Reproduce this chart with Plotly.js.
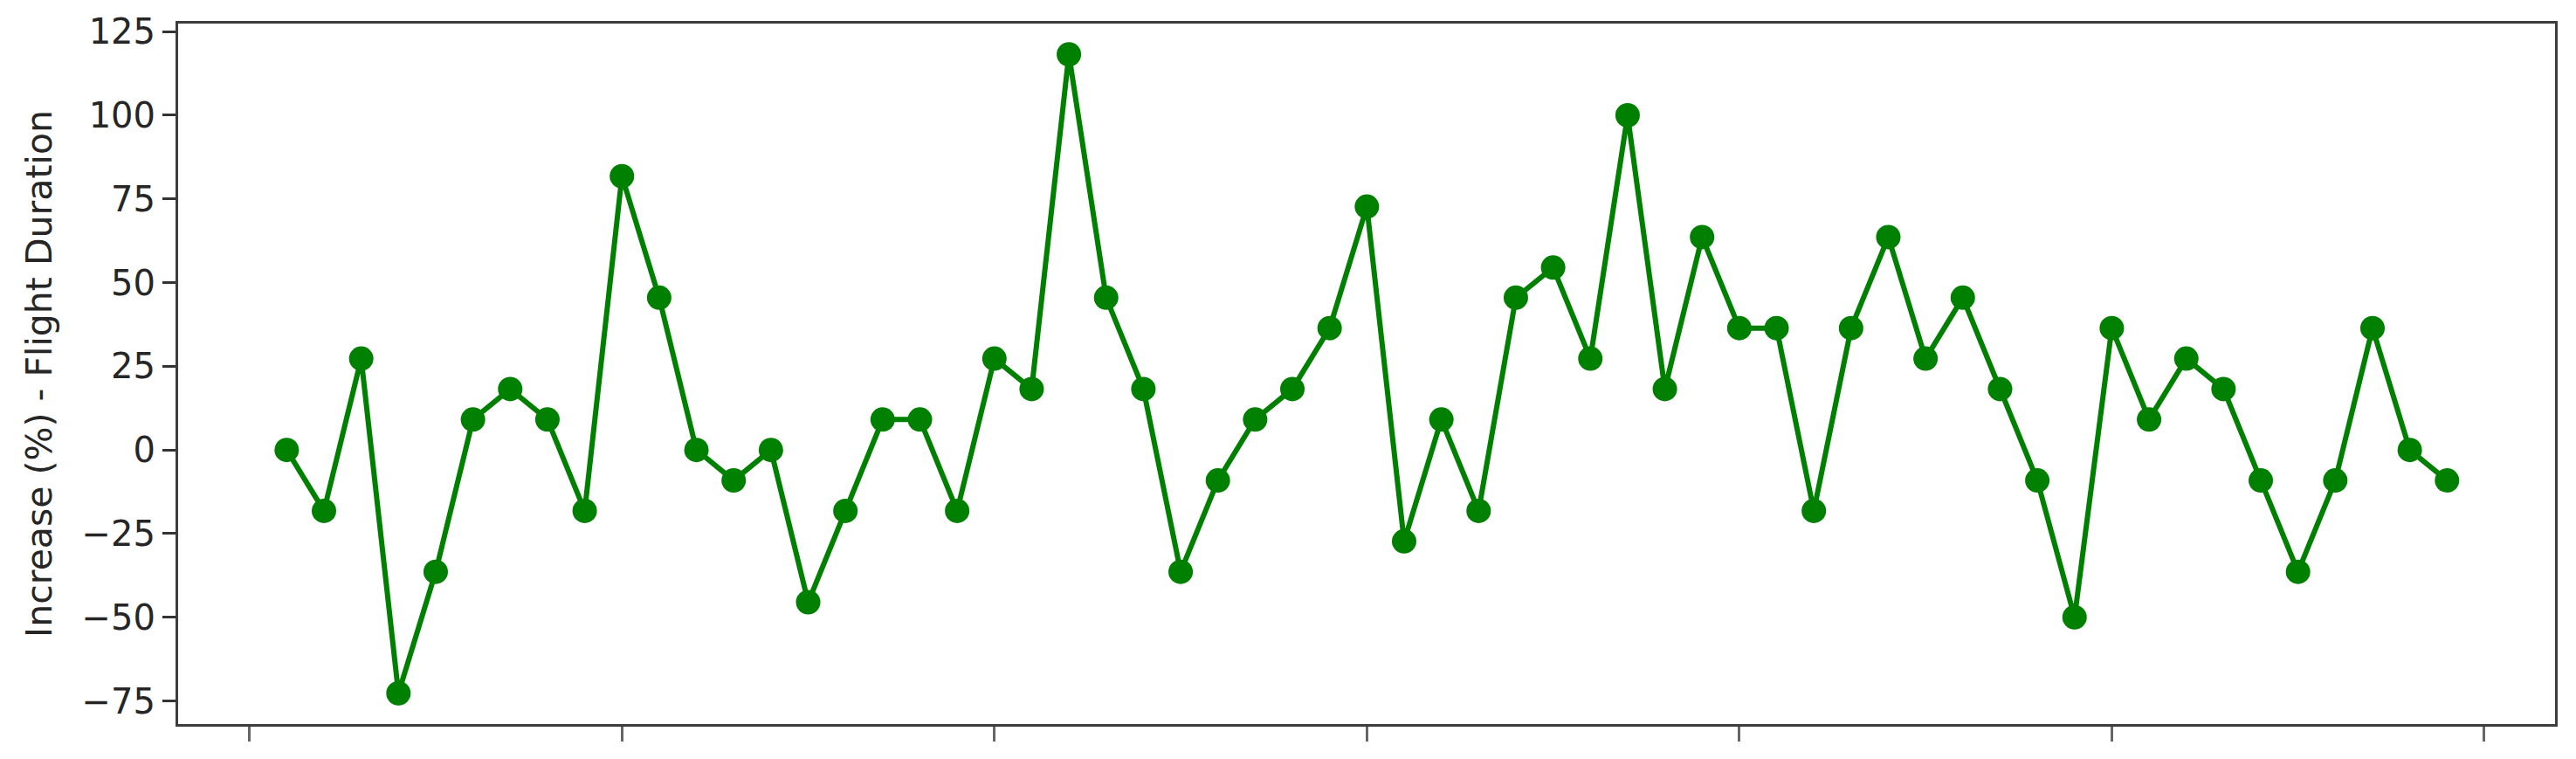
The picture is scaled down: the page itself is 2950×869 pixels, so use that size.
<!DOCTYPE html>
<html>
<head>
<meta charset="utf-8">
<script src="https://cdn.plot.ly/plotly-3.0.1.min.js"></script>
<style>
  html, body { margin: 0; padding: 0; background: #fff; }
</style>
</head>
<body>
<div id="grafico"></div>
<script>
// increase (%) of flight duration, one value per run (run 1 .. 59)
const increase = [
    0, -18.2, 27.3, -72.7, -36.4, 9.1, 18.2, 9.1, -18.2, 81.8,
    45.5, 0, -9.1, 0, -45.5, -18.2, 9.1, 9.1, -18.2, 27.3,
    18.2, 118.2, 45.5, 18.2, -36.4, -9.1, 9.1, 18.2, 36.4, 72.7,
    -27.3, 9.1, -18.2, 45.5, 54.5, 27.3, 100, 18.2, 63.6, 36.4,
    36.4, -18.2, 36.4, 63.6, 27.3, 45.5, 18.2, -9.1, -50, 36.4,
    9.1, 27.3, 18.2, -9.1, -36.4, -9.1, 36.4, 0, -9.1
];
const firstRun = 1;
const yTicks = [-75, -50, -25, 0, 25, 50, 75, 100, 125];
const xTicks = [0, 10, 20, 30, 40, 50, 60];
const yLabel = "Increase (%) - Flight Duration";

const verde = 'rgb(0, 128, 0)';
const fonte = '"DejaVu Sans", Verdana, sans-serif';

var data = [{
    y: increase,
    x0: firstRun,
    dx: 1,
    type: 'scatter',
    mode: 'lines+markers',
    line: {color: verde, width: 6},
    marker: {color: verde, size: 28},
    hoverinfo: 'skip'
}];

var layout = {
    width: 2950,
    height: 869,
    margin: {l: 204, r: 24, t: 27, b: 40},
    paper_bgcolor: 'white',
    plot_bgcolor: 'white',
    showlegend: false,
    font: {family: fonte, color: '#262626'},
    xaxis: {
        range: [-1.915, 61.9],
        tickmode: 'array',
        tickvals: xTicks,
        showticklabels: false,
        ticks: 'outside',
        ticklen: 17,
        tickwidth: 3,
        tickcolor: '#666',
        showgrid: false,
        zeroline: false,
        showline: true,
        mirror: true,
        linecolor: '#3d3d3d',
        linewidth: 3
    },
    yaxis: {
        range: [-81.9, 127.4],
        tickmode: 'array',
        tickvals: yTicks,
        ticktext: yTicks.map(v => v < 0 ? '\u2212' + Math.abs(v) : String(v)),
        ticks: 'outside',
        ticklen: 15,
        tickwidth: 3,
        tickcolor: '#333',
        ticklabelstandoff: 0,
        tickfont: {family: fonte, size: 40, color: '#262626'},
        showgrid: false,
        zeroline: false,
        showline: true,
        mirror: true,
        linecolor: '#3d3d3d',
        linewidth: 3,
        title: {
            text: yLabel,
            font: {family: fonte, size: 41, color: '#262626'},
            standoff: 22
        }
    }
};

Plotly.newPlot('grafico', data, layout, {staticPlot: true});
</script>
</body>
</html>
